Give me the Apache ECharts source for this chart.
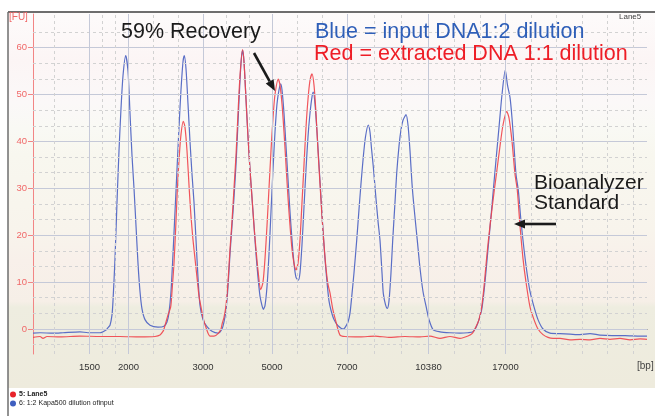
<!DOCTYPE html>
<html><head><meta charset="utf-8">
<script src="https://cdn.jsdelivr.net/npm/echarts@6/dist/echarts.min.js"></script>
<style>html,body{margin:0;padding:0;background:#fff}#c{width:655px;height:416px}</style>
</head><body><div id="c"></div>
<script>
// ---- data (migration position, fluorescence FU) ----
const ladderLabels = ['1500','2000','3000','5000','7000','10380','17000'];
const ladderPos    = [56.5, 95.5, 170, 239, 314, 395.5, 472.5];
const yTickValues  = [0, 10, 20, 30, 40, 50, 60];
const seriesNames  = ['5: Lane5', '6: 1:2 Kapa500 dilution ofinput'];

const blueX = [0,7,20,30,47,55,67,73,75,77,79,80,82,84,86,88,90,92.7,95,97,99,101,103,105,107,109,112,117,125,131,134,136,138,140,142,144,146,148,150,151.3,153,155,157,159,161,163,165,167,170,174,179,185,189,191,193,195,197,199,201,203,205,207,208.5,209.7,211,213,215,217,219,221,223,225,227,229,230.3,232,234,236,238,240,242,244,246,247.7,249,251,253,255,257,259,261,263,265.3,267,269,271,273,275,277,279,280.3,282,284,286,288,290,292,294,296,298,301,305,310.3,312,315,317,319,321,323.7,326,328,330.3,332.5,335.3,337,338.5,340.3,342.5,345,347,349,350.3,352.5,354.3,356,358,359.7,362,363.7,366,368,370,373,375,377,379,381,384.3,387,390,393.7,396,400.3,407,417,427,435,440,443,446,449,452,455,458,460.3,463,466,469,472.3,474.5,477,479,481,483,485.3,488,491,494,497,501,505,510,517,527,537,547,557,567,579,592,607,614];
const blueY = [-0.9,-0.8,-0.9,-0.8,-0.6,-0.8,-0.8,-0.2,0.3,0.8,3,6,15,27,38,47,54,58.3,55,46,37,30,22,14,8,4.3,2,0.8,0.4,0.6,1.5,3.5,8,16,25,34,43,51,57,58.3,55.5,48,40,33,27,19,11,5,2,0.5,-0.5,-0.9,0,1.5,4,9,16,22,28,35,44,53,58,59.4,57,49,41,34,28,22,16,11,7,5,4.2,5,9,16,25,34,42,48,51,52.3,51,46,39,32,25,19,14,11,10.4,12,18,26,34,41,46,49.5,50.5,48,42,35,28,21,15,10,6,4,2,0.7,0,0.3,1.5,3.4,7.5,12,18.9,25.5,31,36.7,41,43.5,42,38.5,34.6,29,23,18.9,12,7.6,5.2,4.4,6,12,18.9,27,33.2,39,42.5,44.5,45.7,43.5,38,31,26,18.9,13,8,4.2,2,-0.2,-0.6,-0.8,-0.9,-0.8,-0.6,0.3,2,4.5,10,17,24,29.6,36,43,50,55.2,52,49.4,45,39,33,29.6,23,17,12,8,4.7,2,0,-0.9,-1,-1.1,-1.2,-1.0,-1.3,-1.4,-1.4,-1.5,-1.5];

const redX = [0,7,10,14,27,47,67,87,107,122,127,130,131,133,135,137.7,139,141,143,144.3,146,148,150.3,152,154,156.3,158,160,162,164,166,168,170,173,177,181,185,188,189,191,193,195,197,199,201,203,205,207,209.5,211,213,215,217,219,221,223,225,227.7,230,232,234,236,238,240,242,245.3,247,249,251,253,255,257,259,261,263,265,267,269,271,273,275,277,279,281,283,285,287,289,291,293,295,297,300,303,307,312,327,342,357,372,387,397,407,417,427,435,439,443,446,448.7,451,454,457,461.3,464,467,470,473.7,476,479,482,484.3,487,490,493,497,501,505,510,515,520,527,537,547,557,567,577,587,597,607,614];
const redY = [-1.8,-1.6,-2.0,-1.6,-1.7,-1.5,-1.6,-1.6,-1.7,-1.6,-1.3,-0.5,0,1.5,3,4.7,8,14,23,29.6,36,41.5,44.3,43,38,29.6,24,19,15,11,7,4.7,2.5,0.3,-1.5,-1.5,-1.0,0,1,2.5,5,10,17,23,30,37,46,54,59.6,57,49,41,34,28,22,17,12.5,8.4,10,15,22,30,38,45,50,53.3,52,48,42,35,28,22,17,14,12.6,14,19,27,35,43,49,53,54.4,52,46,38,31,24,18,13,9.5,7.7,4,1.5,-1.3,-1.6,-1.7,-1.5,-1.8,-1.6,-1.7,-1.5,-2.0,-1.6,-2.0,-1.5,-1,0.5,2,4.7,9,16,22,29.6,34,39,43.5,46.4,45,40,33,29.6,22,15,10,4.7,2,0,-1.2,-1.8,-2,-2,-2.3,-2.2,-2.3,-2.0,-2.2,-2.0,-2.3,-2.1,-2.2];

// ---- layout / style ----
const X_MIN = 0, X_MAX = 614, Y_MIN = -5.333, Y_MAX = 67.17;
const minorX = [21, 69.5, 82.5, 120.3, 145.2, 193, 216, 264, 289, 341.2, 368.3, 421.2, 446.8, 498, 523.5, 549, 574.5, 600];
const minorY = [];
for (let k = -1; k <= 19; k++) { if (k % 3 !== 0) minorY.push(k * 10 / 3); }

const BLUE = '#5a6ec6', RED = '#f0434a';
const FONT = 'Liberation Sans, Arial, sans-serif';
const gridSolid = { color: '#c5c9d8', width: 1, type: 'solid' };
const gridDash = { color: '#d2d2d2', width: 1, type: [3, 3] };

const gridLines = []
  .concat(yTickValues.map(v => ({ yAxis: v, lineStyle: gridSolid })))
  .concat(minorY.map(v => ({ yAxis: v, lineStyle: gridDash })))
  .concat(ladderPos.map(v => ({ xAxis: v, lineStyle: gridSolid })))
  .concat(minorX.map(v => ({ xAxis: v, lineStyle: gridDash })));

const chart = echarts.init(document.getElementById('c'), null, { renderer: 'canvas' });

function arrow(x1, y1, x2, y2) {
  const ang = Math.atan2(y2 - y1, x2 - x1), L = 11, W = 4.5;
  const bx = x2 - L * Math.cos(ang), by = y2 - L * Math.sin(ang);
  const px = -Math.sin(ang) * W, py = Math.cos(ang) * W;
  return [
    { type: 'line', z: 100, shape: { x1, y1, x2: bx, y2: by }, style: { stroke: '#1a1a1a', lineWidth: 2.6 } },
    { type: 'polygon', z: 100, shape: { points: [[x2, y2], [bx + px, by + py], [bx - px, by - py]] }, style: { fill: '#1a1a1a' } }
  ];
}
function txt(text, x, y, size, color, extra) {
  return Object.assign({ type: 'text', z: 100, style: { text, x, y, fill: color, font: size + 'px ' + FONT, textVerticalAlign: 'middle', verticalAlign: 'middle' } }, extra || {});
}

chart.setOption({
  animation: false,
  grid: { left: 33, top: 14, width: 614, height: 340, containLabel: false },
  xAxis: {
    type: 'value', min: X_MIN, max: X_MAX,
    axisLine: { show: true, lineStyle: { color: '#555', width: 1 } },
    axisTick: { show: false },
    splitLine: { show: false },
    axisLabel: {
      customValues: ladderPos, margin: 8, color: '#333', fontSize: 9.5, fontFamily: FONT,
      formatter: v => { let b = 0; ladderPos.forEach((p, i) => { if (Math.abs(p - v) < Math.abs(ladderPos[b] - v)) b = i; }); return ladderLabels[b]; }
    }
  },
  yAxis: {
    type: 'value', min: Y_MIN, max: Y_MAX,
    axisLine: { show: true, lineStyle: { color: '#f28585', width: 1 } },
    axisTick: { show: true, customValues: yTickValues, length: 5, lineStyle: { color: '#f28585' } },
    axisLabel: { customValues: yTickValues, margin: 6, color: '#f06868', fontSize: 9.5, fontFamily: FONT },
    splitLine: { show: false }
  },
  legend: {
    orient: 'vertical', left: 10, top: 391, itemGap: 2, itemWidth: 6, itemHeight: 6, icon: 'circle', padding: 0,
    data: [seriesNames[0], seriesNames[1]],
    formatter: n => n === seriesNames[0] ? '{b|' + n + '}' : n,
    textStyle: { fontSize: 7, color: '#222', fontFamily: FONT, padding: [0, 0, 0, -2], rich: { b: { fontSize: 7, fontWeight: 'bold', color: '#222' } } }
  },
  series: [
    { type: 'line', name: 'grid', data: [], z: 1, silent: true,
      markLine: { silent: true, symbol: 'none', animation: false, label: { show: false }, emphasis: { disabled: true }, data: gridLines } },
    { type: 'line', name: seriesNames[1], data: blueX.map((x, i) => [x, blueY[i]]), symbol: 'none', smooth: 0.25, z: 3,
      lineStyle: { color: BLUE, width: 1.2 }, itemStyle: { color: '#3f5fc0' } },
    { type: 'line', name: seriesNames[0], data: redX.map((x, i) => [x, redY[i]]), symbol: 'none', smooth: 0.25, z: 4,
      lineStyle: { color: RED, width: 1.2, opacity: 0.9 }, itemStyle: { color: '#e8232a' } }
  ],
  graphic: [
    { type: 'rect', z: -100, shape: { x: 8, y: 12, width: 647, height: 376 },
      style: { fill: new echarts.graphic.LinearGradient(0, 0, 0, 1, [
        { offset: 0, color: '#fdfbfb' }, { offset: 0.13, color: '#fcf5f5' }, { offset: 0.24, color: '#fbf8f8' },
        { offset: 0.31, color: '#f9f9f4' }, { offset: 0.38, color: '#f8f7ef' }, { offset: 0.58, color: '#f8f4ec' },
        { offset: 0.66, color: '#f8f0ea' }, { offset: 0.77, color: '#f6efe7' }, { offset: 0.785, color: '#eeede0' },
        { offset: 1, color: '#eeebdd' }]) } },
    { type: 'line', z: 50, shape: { x1: 8, y1: 12, x2: 655, y2: 12 }, style: { stroke: '#6e6e6e', lineWidth: 2 } },
    { type: 'line', z: 50, shape: { x1: 8, y1: 12, x2: 8, y2: 416 }, style: { stroke: '#6e6e6e', lineWidth: 1.5 } },
    txt('[FU]', 9, 17, 10, '#f06868'),
    txt('Lane5', 619, 17, 8, '#444'),
    txt('[bp]', 637, 366, 10, '#444'),
    txt('59% Recovery', 121, 31.6, 21.5, '#1a1a1a'),
    txt('Blue = input DNA1:2 dilution', 315, 31.6, 21.5, '#2f5fb8'),
    txt('Red = extracted DNA 1:1 dilution', 314, 54.2, 21.5, '#ee1d26'),
    txt('Bioanalyzer', 534, 183.3, 21, '#1a1a1a'),
    txt('Standard', 534, 203, 21, '#1a1a1a')
  ].concat(arrow(254, 53, 275, 91)).concat(arrow(556, 224, 514, 224))
});
</script></body></html>
